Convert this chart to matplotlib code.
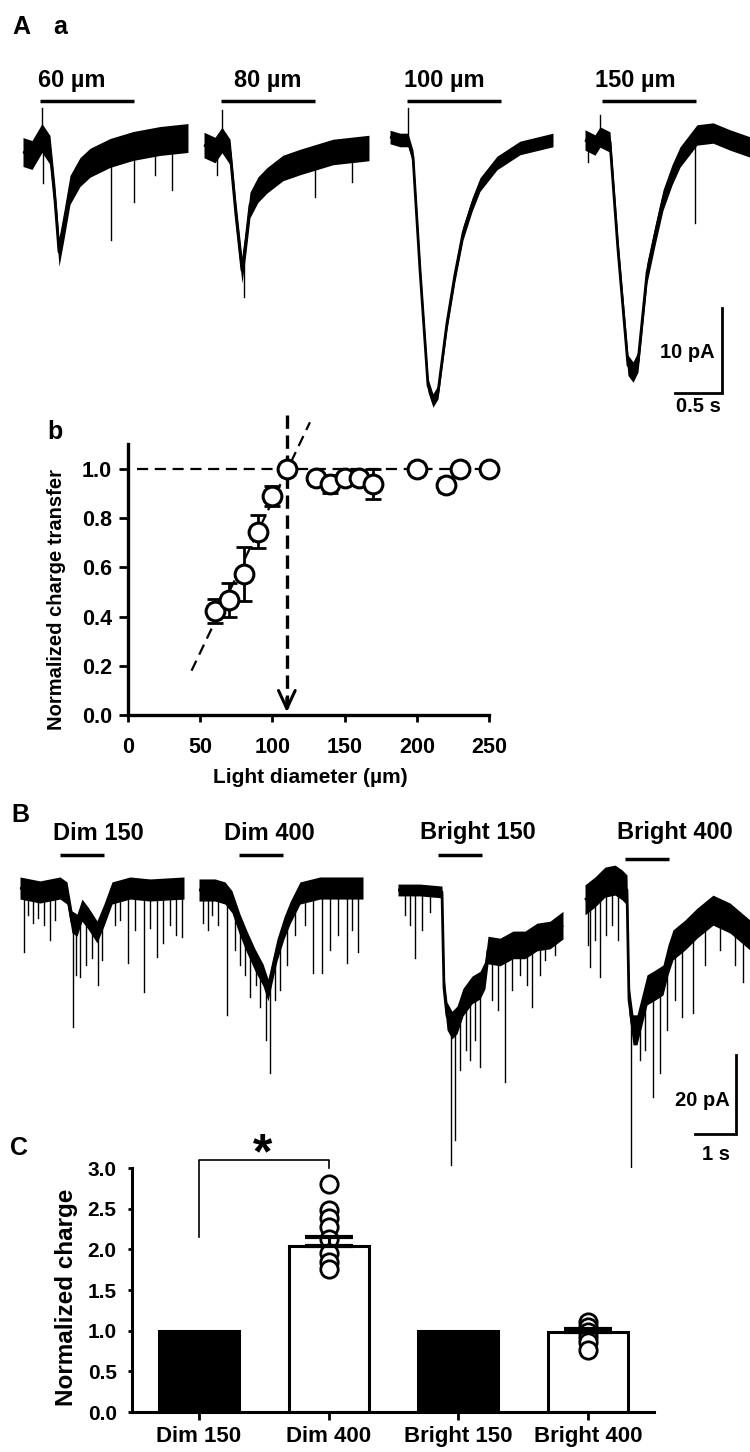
"""Light-diameter recordings figure: traces, summation curve and charge bars."""

import matplotlib
matplotlib.use("Agg")
import matplotlib.pyplot as plt
import numpy as np

plt.rcParams["font.family"] = ["Liberation Sans", "DejaVu Sans"]
plt.rcParams["font.weight"] = "bold"

# ---------------------------------------------------------------- data
# Aa: light-evoked currents (time in s from trace start, current in pA vs baseline)
a60_t = [0, 0.096, 0.202, 0.287, 0.340, 0.383, 0.436, 0.50, 0.606, 0.713, 0.926, 1.17, 1.457, 1.755]
a60_i = [-0.24, -0.59, 1.41, 0, -5.9, -12.0, -8.8, -4.7, -2.6, -1.5, -0.35, 0.47, 1.06, 1.41]
a60_spikes = [(0.202, 4.9), (0.213, -3.9), (0.936, -10.6), (1.181, -6.1), (1.404, -2.9), (1.585, -4.7)]

a80_t = [0, 0.117, 0.191, 0.277, 0.340, 0.404, 0.447, 0.489, 0.574, 0.670, 0.840, 1.021, 1.372, 1.755]
a80_i = [0.35, -0.24, 0.94, -0.47, -7.9, -14.4, -10.8, -6.7, -4.9, -3.8, -2.35, -1.65, -0.47, 0]
a80_spikes = [(0.138, -3.2), (0.191, 4.5), (0.426, -17.5), (1.181, -5.8), (1.574, -4.0)]

a100_t = [0, 0.106, 0.191, 0.245, 0.319, 0.404, 0.457, 0.511, 0.606, 0.691, 0.777, 0.872, 0.957, 1.138, 1.383, 1.734]
a100_i = [0, -0.35, -0.35, -2.35, -15.6, -29.2, -31.0, -30.0, -21.9, -16.2, -11.3, -8.0, -5.6, -3.06, -1.29, -0.35]
a100_spikes = [(0.191, 3.4)]

a150_t = [0, 0.106, 0.160, 0.266, 0.351, 0.457, 0.511, 0.564, 0.660, 0.745, 0.830, 0.926, 1.011, 1.191, 1.362, 1.543, 1.755]
a150_i = [0, -0.59, 0.35, -0.24, -12.9, -26.5, -27.3, -26.1, -15.6, -11.2, -7.06, -4.1, -2.0, 0.59, 0.82, 0, -0.82]
a150_spikes = [(0.032, -2.6), (0.160, 2.9), (1.170, -9.8)]

a_labels = ["60 \u00b5m", "80 \u00b5m", "100 \u00b5m", "150 \u00b5m"]
a_noise = [1.7, 1.5, 0.8, 1.2]          # half-width of the noise band, pA
a_stim_on, a_stim_dur = 0.18, 1.0       # s

# b: normalized charge transfer vs light diameter
diameter = [60, 70, 80, 90, 100, 110, 130, 140, 150, 160, 170, 200, 220, 230, 250]
charge = [0.423, 0.467, 0.573, 0.744, 0.89, 1.0, 0.963, 0.939, 0.965, 0.963, 0.94, 1.0, 0.935, 1.0, 1.0]
charge_sem = [0.05, 0.07, 0.11, 0.067, 0.04, 0.01, 0.02, 0.035, 0.02, 0.02, 0.06, 0.01, 0.03, 0.01, 0.01]
fit_x = [44, 126]
fit_y = [0.18, 1.19]
plateau_x = [6, 255]
threshold_d = 110

# B: dim / bright spots, 150 and 400 um
b_d150_t = [0, 0.488, 0.976, 1.146, 1.268, 1.39, 1.512, 1.659, 1.878, 2.049, 2.244, 2.683, 3.171, 4.0]
b_d150_i = [0.5, -0.5, 0.5, -0.76, -8.1, -8.9, -5.1, -7.1, -10.6, -6.3, -0.76, 0.5, 0, 0.5]
b_d150_spikes = [(0.098, -15.7), (0.195, -6.3), (0.317, -8.4), (0.439, -7.1), (0.585, -8.9),
                 (0.732, -12.7), (0.854, -7.6), (1.293, -34.7), (1.366, -21.5), (1.463, -22.0),
                 (1.61, -19.0), (1.756, -17.2), (1.902, -24.1), (2.0, -17.7), (2.317, -8.9),
                 (2.439, -7.6), (2.634, -18.5), (2.805, -10.1), (3.024, -25.8), (3.171, -9.6),
                 (3.341, -17.0), (3.488, -13.4), (3.659, -8.9), (3.805, -11.4), (3.951, -11.9)]

b_d400_t = [0, 0.39, 0.634, 0.805, 1.0, 1.171, 1.366, 1.561, 1.683, 1.78, 1.902, 2.073, 2.22, 2.463, 2.951, 4.0]
b_d400_i = [0, 0, -0.76, -3.0, -8.9, -13.2, -17.7, -21.5, -25.3, -20.8, -15.2, -9.6, -5.8, -0.76, 0.5, 0.5]
b_d400_spikes = [(0.098, -8.4), (0.22, -10.1), (0.317, -6.3), (0.463, -8.9), (0.683, -31.6),
                 (0.878, -15.2), (1.0, -19.0), (1.122, -21.5), (1.244, -27.1), (1.39, -24.1),
                 (1.488, -29.6), (1.634, -38.0), (1.732, -46.3), (1.854, -27.8), (1.976, -25.3),
                 (2.146, -19.0), (2.341, -11.4), (2.585, -8.9), (2.78, -21.0), (3.0, -21.0),
                 (3.195, -15.2), (3.39, -11.4), (3.61, -18.5), (3.732, -10.1), (3.878, -15.7)]

b_b150_t = [0, 0.537, 1.073, 1.122, 1.195, 1.317, 1.439, 1.585, 1.805, 2.0, 2.122, 2.195, 2.488, 2.805,
            3.098, 3.39, 3.707, 4.024]
b_b150_i = [0, 0, -0.5, -24.8, -31.9, -34.2, -32.9, -28.4, -25.3, -24.1, -21.5, -15.2, -15.7, -13.9,
            -13.9, -11.9, -11.4, -8.9]
b_b150_noise = [1.5, 1.5, 1.5, 3, 3.5, 3.5, 3.5, 3.5, 3.5, 3.5, 3.5, 3.5, 3.5, 3.5, 3.5, 3.5, 3.5, 3.5]
b_b150_spikes = [(0.171, -6.3), (0.293, -8.9), (0.415, -17.2), (0.585, -10.1), (0.78, -5.6),
                 (1.293, -69.6), (1.39, -63.3), (1.512, -45.6), (1.659, -40.5), (1.756, -43.0),
                 (1.878, -38.0), (2.0, -44.8), (2.293, -27.8), (2.439, -30.4), (2.61, -48.6),
                 (2.78, -25.3), (2.976, -21.5), (3.146, -24.1), (3.268, -29.6), (3.463, -21.5),
                 (3.585, -17.7), (3.829, -16.5)]

b_b400_t = [0, 0.244, 0.488, 0.732, 0.902, 1.024, 1.073, 1.171, 1.268, 1.39, 1.512, 1.707, 1.902, 2.024,
            2.146, 2.439, 2.732, 3.122, 3.537, 4.024]
b_b400_i = [-2.5, -0.5, 2.0, 2.5, 1.3, 0, -27.8, -35.4, -35.4, -30.4, -25.3, -24.1, -22.8, -17.7,
            -13.9, -11.4, -8.4, -5.1, -7.1, -11.4]
b_b400_spikes = [(0.073, -13.9), (0.122, -19.5), (0.244, -12.7), (0.366, -22.0), (0.512, -11.4),
                 (0.659, -8.9), (0.805, -12.7), (1.122, -70.4), (1.341, -43.0), (1.463, -40.5),
                 (1.659, -52.4), (1.829, -46.3), (2.0, -35.4), (2.195, -27.8), (2.366, -32.2),
                 (2.634, -31.1), (2.927, -19.0), (3.293, -15.2), (3.659, -19.0), (3.854, -23.3)]

b_labels = ["Dim 150", "Dim 400", "Bright 150", "Bright 400"]
b_noise = [2.8, 2.8, b_b150_noise, 3.8]
b_stim_on, b_stim_dur = 0.97, 1.07

# C: normalized charge
groups = ["Dim 150", "Dim 400", "Bright 150", "Bright 400"]
group_mean = [1.0, 2.04, 1.0, 0.985]
group_sem = [0, 0.11, 0, 0.04]
group_fill = ["black", "white", "black", "white"]
dim400_cells = [2.80, 2.48, 2.39, 2.28, 2.13, 1.95, 1.85, 1.76]
bright400_cells = [1.11, 1.05, 0.98, 0.92, 0.86, 0.76]

# ---------------------------------------------------------------- layout
W, H = 750, 1452
fig = plt.figure(figsize=(W / 100, H / 100), dpi=100)


def px_axes(x0, y0, x1, y1):
    return fig.add_axes([x0 / W, 1 - y1 / H, (x1 - x0) / W, (y1 - y0) / H])


def ptext(x, y, s, **kw):
    fig.text(x / W, 1 - y / H, s, **kw)


def draw_trace(ax, t0, base, t, cur, noise, spikes):
    t = t0 + np.asarray(t, float)
    cur = base + np.asarray(cur, float)
    n = np.broadcast_to(np.asarray(noise, float), cur.shape)
    ax.fill_between(t, cur - n, cur + n, color="k", lw=0)
    ax.plot(t, cur, color="k", lw=2.0, solid_joinstyle="round", solid_capstyle="butt")
    for st, si in spikes:
        x = t0 + st
        y0 = np.interp(x, t, cur)
        ax.plot([x, x], [y0, base + si], color="k", lw=1.0)


# ---- A a
PXS_A, PXPA_A = 94.0, 8.5
ax_a = px_axes(0, 60, W, 420)
ax_a.set_xlim(0, W / PXS_A)
ax_a.set_ylim(-(420 - 150) / PXPA_A, (150 - 60) / PXPA_A)
ax_a.axis("off")
a_start_px = [23, 204, 390, 585]
a_base_px = [150, 148, 137, 140]
a_label_px = [72, 268, 444, 635]
a_traces = [(a60_t, a60_i, a60_spikes), (a80_t, a80_i, a80_spikes),
            (a100_t, a100_i, a100_spikes), (a150_t, a150_i, a150_spikes)]
for k, (t, cur, spk) in enumerate(a_traces):
    t0 = a_start_px[k] / PXS_A
    base = -(a_base_px[k] - 150) / PXPA_A
    draw_trace(ax_a, t0, base, t, cur, a_noise[k], spk)
    bar_y = (150 - 101) / PXPA_A
    ax_a.plot([t0 + a_stim_on, t0 + a_stim_on + a_stim_dur], [bar_y, bar_y],
              color="k", lw=2.5, solid_capstyle="butt")
    ptext(a_label_px[k], 80, a_labels[k], ha="center", va="center", fontsize=17)

# scale bar 10 pA / 0.5 s
sb_x = 722 / PXS_A
sb_y = -(393 - 150) / PXPA_A
ax_a.plot([sb_x - 0.5, sb_x, sb_x], [sb_y, sb_y, sb_y + 10], color="k", lw=2.0,
          solid_joinstyle="miter")
ptext(715, 352, "10 pA", ha="right", va="center", fontsize=14.5)
ptext(698, 407, "0.5 s", ha="center", va="center", fontsize=14.5)

ptext(12, 27, "A", ha="left", va="center", fontsize=18)
ptext(53, 27, "a", ha="left", va="center", fontsize=18)

# ---- b
ax_b = px_axes(128, 715 - 1.1 * 246, 489, 715)
ax_b.set_xlim(0, 250)
ax_b.set_ylim(0, 1.1)
ax_b.plot(plateau_x, [1, 1], color="k", lw=1.6, dashes=(5, 3), clip_on=False, zorder=1)
ax_b.plot(fit_x, fit_y, color="k", lw=1.6, dashes=(5, 3), clip_on=False, zorder=1)
ax_b.plot([threshold_d, threshold_d], [1.22, 0.03], color="k", lw=2.4, dashes=(4, 2),
          clip_on=False, zorder=1)
ax_b.annotate("", xy=(threshold_d, 0.0), xytext=(threshold_d, 0.08),
              arrowprops=dict(arrowstyle="->,head_length=1.3,head_width=0.6", lw=2.2, color="k"))
ax_b.errorbar(diameter, charge, yerr=charge_sem, fmt="none", ecolor="k", elinewidth=2,
              capsize=6, capthick=2, zorder=2, clip_on=False)
ax_b.plot(diameter, charge, "o", ms=13.5, mfc="white", mec="k", mew=2.2, zorder=3, clip_on=False)
for side in ("top", "right"):
    ax_b.spines[side].set_visible(False)
for side in ("left", "bottom"):
    ax_b.spines[side].set_linewidth(2.4)
ax_b.set_xticks([0, 50, 100, 150, 200, 250])
ax_b.set_yticks([0, 0.2, 0.4, 0.6, 0.8, 1.0])
ax_b.set_yticklabels(["0.0", "0.2", "0.4", "0.6", "0.8", "1.0"])
ax_b.tick_params(axis="y", direction="out", length=6.5, width=2, pad=5, labelsize=15.5)
ax_b.tick_params(axis="x", direction="out", length=5, width=2, pad=11, labelsize=15.5)
ptext(57, 600, "Normalized charge transfer", rotation=90, ha="center", va="center", fontsize=14.5)
ptext(310, 777, "Light diameter (\u00b5m)", ha="center", va="center", fontsize=15)
ptext(47, 432, "b", ha="left", va="center", fontsize=18)

# ---- B
PXS_B, PXPA_B = 41.0, 3.95
ax_bt = px_axes(0, 840, W, 1175)
ax_bt.set_xlim(0, W / PXS_B)
ax_bt.set_ylim(-(1175 - 890) / PXPA_B, (890 - 840) / PXPA_B)
ax_bt.axis("off")
b_start_px = [20, 199, 398, 585]
b_bar_px = [855, 855, 855, 859]
b_label_px = [98, 269, 478, 675]
b_traces = [(b_d150_t, b_d150_i, b_d150_spikes), (b_d400_t, b_d400_i, b_d400_spikes),
            (b_b150_t, b_b150_i, b_b150_spikes), (b_b400_t, b_b400_i, b_b400_spikes)]
for k, (t, cur, spk) in enumerate(b_traces):
    t0 = b_start_px[k] / PXS_B
    draw_trace(ax_bt, t0, 0.0, t, cur, b_noise[k], spk)
    bar_y = (890 - b_bar_px[k]) / PXPA_B
    ax_bt.plot([t0 + b_stim_on, t0 + b_stim_on + b_stim_dur], [bar_y, bar_y],
               color="k", lw=2.5, solid_capstyle="butt")
    ptext(b_label_px[k], 833, b_labels[k], ha="center", va="center", fontsize=17)

sb_x = 736 / PXS_B
sb_y = -(1134 - 890) / PXPA_B
ax_bt.plot([sb_x - 1.0, sb_x, sb_x], [sb_y, sb_y, sb_y + 20], color="k", lw=2.0,
           solid_joinstyle="miter")
ptext(730, 1100, "20 pA", ha="right", va="center", fontsize=14.5)
ptext(716, 1154, "1 s", ha="center", va="center", fontsize=14.5)
ptext(11, 815, "B", ha="left", va="center", fontsize=18)

# ---- C
ax_c = px_axes(132, 1168, 654, 1412)
x = np.arange(len(groups))
ax_c.set_xlim(-0.517, 3.51)
ax_c.set_ylim(0, 3.0)
ax_c.bar(x, group_mean, width=0.617, color=group_fill, edgecolor="k", linewidth=2.2, zorder=2)
ax_c.plot(np.full(len(dim400_cells), x[1]), dim400_cells, "o", ms=12.5, mfc="white", mec="k",
          mew=2, zorder=3, clip_on=False)
ax_c.plot(np.full(len(bright400_cells), x[3]), bright400_cells, "o", ms=12.5, mfc="white", mec="k",
          mew=2, zorder=3, clip_on=False)
for k in (1, 3):
    ax_c.errorbar(x[k], group_mean[k], yerr=[[0], [group_sem[k]]], fmt="none", ecolor="k",
                  elinewidth=2.2, capsize=17, capthick=3, zorder=4)
# significance bracket
ax_c.plot([x[0], x[0], x[1], x[1]], [2.15, 3.1, 3.1, 3.0], color="k", lw=1.2, clip_on=False)
ax_c.text(0.49, 3.0, "*", ha="center", va="baseline", fontsize=36)
for side in ("top", "right"):
    ax_c.spines[side].set_visible(False)
for side in ("left", "bottom"):
    ax_c.spines[side].set_linewidth(2.2)
ax_c.set_xticks(x)
ax_c.set_xticklabels(groups)
ax_c.set_yticks(np.arange(0, 3.01, 0.5))
ax_c.set_yticklabels(["0.0", "0.5", "1.0", "1.5", "2.0", "2.5", "3.0"])
ax_c.tick_params(axis="y", direction="out", length=3, width=2, pad=8, labelsize=15)
ax_c.tick_params(axis="x", direction="out", length=6, width=2, pad=4, labelsize=16)
ptext(66, 1297, "Normalized charge", rotation=90, ha="center", va="center", fontsize=17.5)
ptext(10, 1148, "C", ha="left", va="center", fontsize=18)

fig.savefig("out.png", dpi=100)
